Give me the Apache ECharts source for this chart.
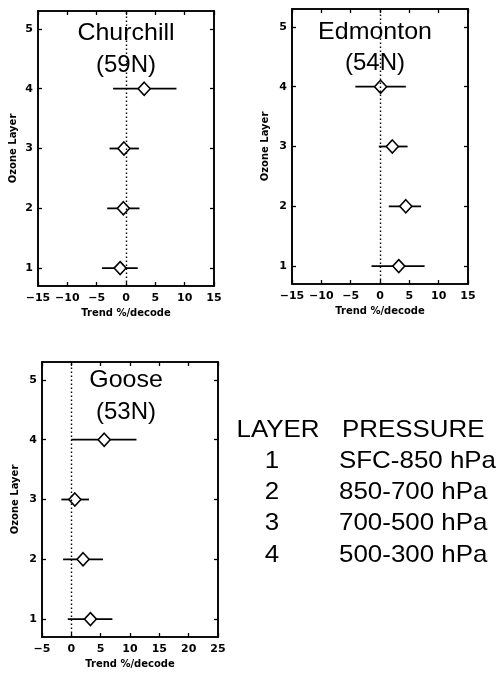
<!DOCTYPE html>
<html>
<head>
<meta charset="utf-8">
<script src="https://cdn.jsdelivr.net/npm/echarts@6/dist/echarts.min.js"></script>
<style>html,body{margin:0;padding:0;background:#fff}#c{width:500px;height:675px}</style>
</head>
<body>
<div id="c"></div>
<script>
// Data
const layers = [1, 2, 3, 4];
const yTicks = [1, 2, 3, 4, 5];
const stations = ['Churchill', 'Edmonton', 'Goose'];
const latitudes = ['(59N)', '(54N)', '(53N)'];
const churchillTrend = [-1.0, -0.45, -0.35, 3.1];
const churchillLow = [-4.1, -3.2, -2.8, -2.2];
const churchillHigh = [2.0, 2.3, 2.2, 8.6];
const edmontonTrend = [3.2, 4.4, 2.1, 0.1];
const edmontonLow = [-1.45, 1.5, -0.2, -4.2];
const edmontonHigh = [7.6, 7.0, 4.7, 4.4];
const gooseTrend = [3.25, 2.0, 0.6, 5.6];
const gooseLow = [-0.6, -1.4, -1.7, 0.0];
const gooseHigh = [7.0, 5.4, 3.0, 11.1];
const xRanges = [[-15, 15], [-15, 15], [-5, 25]];
const tableHeader = ['LAYER', 'PRESSURE'];
const tableLayers = ['1', '2', '3', '4'];
const tablePressure = ['SFC-850 hPa', '850-700 hPa', '700-500 hPa', '500-300 hPa'];

const trends = [churchillTrend, edmontonTrend, gooseTrend];
const lows = [churchillLow, edmontonLow, gooseLow];
const highs = [churchillHigh, edmontonHigh, gooseHigh];

const grids = [
  {left: 38, top: 11, width: 176, height: 275},
  {left: 292, top: 9, width: 176, height: 275},
  {left: 42, top: 362, width: 176, height: 275}
];
const yNameGaps = [20, 22, 22];

const FONT = '"Liberation Sans", Arial, Helvetica, sans-serif';
const AXFONT = '"DejaVu Sans", sans-serif';
const tickFmt = v => String(v).replace('-', '\u2212');

const grid = grids.map(g => Object.assign({show: true, borderColor: '#000', borderWidth: 1.6, backgroundColor: '#fff'}, g));
const xAxis = [], yAxis = [], series = [], graphic = [];

grids.forEach((g, i) => {
  const tick = {show: true, inside: true, length: 4, lineStyle: {color: '#000', width: 1.3}};
  xAxis.push({
    type: 'value', gridIndex: i, min: xRanges[i][0], max: xRanges[i][1], interval: 5,
    position: 'bottom',
    axisLine: {show: true, onZero: false, lineStyle: {color: '#000', width: 1.6}},
    axisTick: tick, splitLine: {show: false},
    axisLabel: {show: true, margin: 7, color: '#000', fontSize: 11, fontWeight: 'bold', fontFamily: AXFONT, formatter: tickFmt},
    name: 'Trend %/decode', nameLocation: 'middle', nameGap: 22,
    nameTextStyle: {color: '#000', fontSize: 10, fontWeight: 'bold', fontFamily: AXFONT}
  });
  xAxis.push({
    type: 'value', gridIndex: i, min: xRanges[i][0], max: xRanges[i][1], interval: 5,
    position: 'top',
    axisLine: {show: true, onZero: false, lineStyle: {color: '#000', width: 1.6}},
    axisTick: tick, splitLine: {show: false}, axisLabel: {show: false}
  });
  yAxis.push({
    type: 'value', gridIndex: i, min: 0.7, max: 5.3, position: 'left',
    axisLine: {show: true, onZero: false, lineStyle: {color: '#000', width: 1.6}},
    axisTick: Object.assign({customValues: yTicks}, tick), splitLine: {show: false},
    axisLabel: {show: true, customValues: yTicks, margin: 5, color: '#000', fontSize: 11, fontWeight: 'bold', fontFamily: AXFONT},
    name: 'Ozone Layer', nameLocation: 'middle', nameGap: yNameGaps[i], nameRotate: 90,
    nameTextStyle: {color: '#000', fontSize: 10, fontWeight: 'bold', fontFamily: AXFONT}
  });
  yAxis.push({
    type: 'value', gridIndex: i, min: 0.7, max: 5.3, position: 'right',
    axisLine: {show: true, onZero: false, lineStyle: {color: '#000', width: 1.6}},
    axisTick: Object.assign({customValues: yTicks}, tick), splitLine: {show: false}, axisLabel: {show: false}
  });

  // error bars
  series.push({
    type: 'custom', xAxisIndex: 2 * i, yAxisIndex: 2 * i,
    data: layers.map((l, k) => [lows[i][k], highs[i][k], l]),
    renderItem: (params, api) => {
      const a = api.coord([api.value(0), api.value(2)]);
      const b = api.coord([api.value(1), api.value(2)]);
      return {type: 'line', shape: {x1: a[0], y1: a[1], x2: b[0], y2: b[1]}, style: {stroke: '#000', lineWidth: 1.8}};
    },
    markLine: {
      silent: true, symbol: 'none', label: {show: false},
      lineStyle: {color: '#000', type: [1.5, 2.5], width: 1.4},
      data: [{xAxis: 0}]
    },
    z: 2
  });
  // diamonds
  series.push({
    type: 'scatter', xAxisIndex: 2 * i, yAxisIndex: 2 * i,
    data: layers.map((l, k) => [trends[i][k], l]),
    symbol: 'diamond', symbolSize: [12, 13],
    itemStyle: {color: '#fff', borderColor: '#000', borderWidth: 1.6, opacity: 1},
    z: 3
  });
});

// Titles inside panels
const titlePos = [[126, 33, 65], [375, 32, 63], [126, 380, 412]];
titlePos.forEach((p, i) => {
  graphic.push({type: 'text', x: p[0], y: p[1], z: 10, scaleX: 1.04,
    style: {text: stations[i], font: '24px ' + FONT, fill: '#000', align: 'center', verticalAlign: 'middle'}});
  graphic.push({type: 'text', x: p[0], y: p[2], z: 10, scaleX: 1.0,
    style: {text: latitudes[i], font: '24px ' + FONT, fill: '#000', align: 'center', verticalAlign: 'middle'}});
});

// Table
const tf = '24px ' + FONT;
graphic.push({type: 'text', x: 278, y: 430, scaleX: 1.08, style: {text: tableHeader[0], font: tf, fill: '#000', align: 'center', verticalAlign: 'middle'}});
graphic.push({type: 'text', x: 342, y: 430, scaleX: 1.08, style: {text: tableHeader[1], font: tf, fill: '#000', align: 'left', verticalAlign: 'middle'}});
const rowY = [461, 492, 523, 555];
tableLayers.forEach((t, k) => {
  graphic.push({type: 'text', x: 272, y: rowY[k], scaleX: 1.08, style: {text: t, font: tf, fill: '#000', align: 'center', verticalAlign: 'middle'}});
  graphic.push({type: 'text', x: 339, y: rowY[k], scaleX: 1.08, style: {text: tablePressure[k], font: tf, fill: '#000', align: 'left', verticalAlign: 'middle'}});
});

const chart = echarts.init(document.getElementById('c'), null, {renderer: 'canvas'});
chart.setOption({animation: false, backgroundColor: '#fff', grid, xAxis, yAxis, series, graphic});
</script>
</body>
</html>
